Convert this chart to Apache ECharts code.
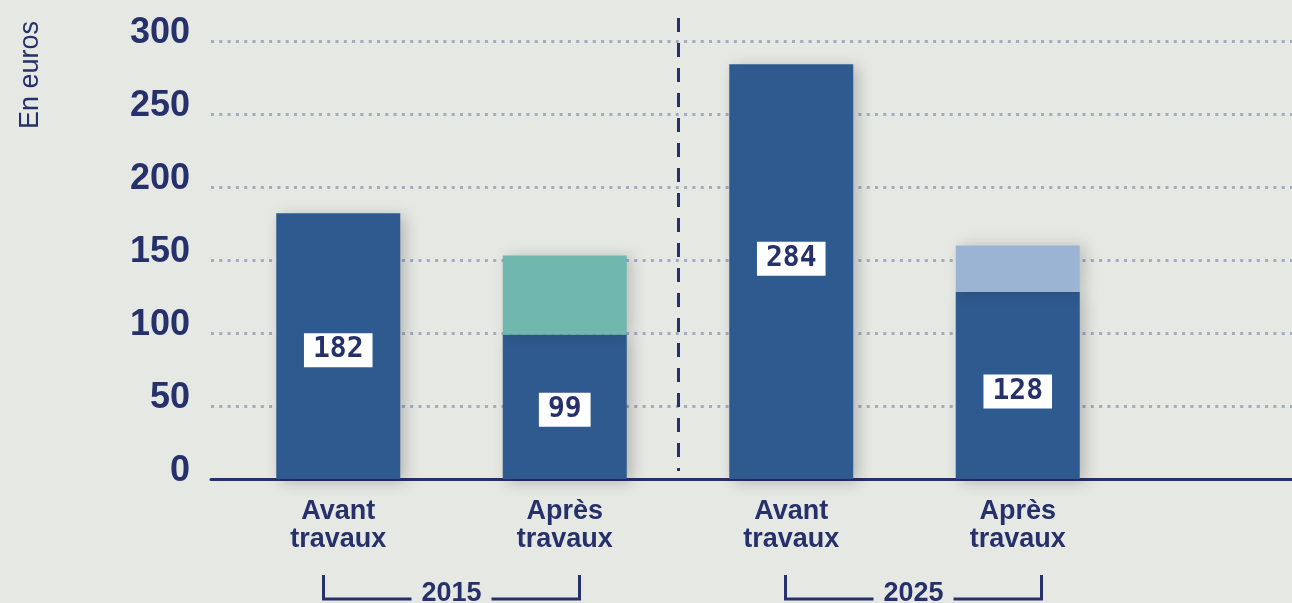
<!DOCTYPE html>
<html>
<head>
<meta charset="utf-8">
<script src="https://cdn.jsdelivr.net/npm/echarts@6/dist/echarts.min.js"></script>
<style>
html,body{margin:0;padding:0;background:#e6e8e4;}
#chart{width:1292px;height:603px;}
</style>
</head>
<body>
<div id="chart"></div>
<script>
// ---- Data ----
const categories = ['Avant\ntravaux', 'Après\ntravaux', 'Avant\ntravaux', 'Après\ntravaux'];
const years = ['2015', '2025'];
const baseValues = [182, 99, 284, 128];      // labelled values
const addedValues = [null, 54, null, 32];    // light top segments (estimated)
const yMin = 0, yMax = 300, yStep = 50;

// ---- Styles ----
const NAVY = '#26306b';
const BAR = '#2f5a8f';
const topColors = [null, '#70b8ae', null, '#9cb4d4'];
const labelOffsets = [[0, 4], [0, 3], [0, -13], [0, 6]];
const yearShift = [0, 9];
const FONT = 'Liberation Sans, Arial, sans-serif';

const chart = echarts.init(document.getElementById('chart'), null, {renderer: 'canvas'});

const option = {
  backgroundColor: '#e6e8e4',
  animation: false,
  grid: [
    {left: 211, right: 0, top: 41, bottom: 124, outerBoundsMode: 'none', containLabel: false},
    {left: 225, right: 161, top: 41, bottom: 124, outerBoundsMode: 'none', containLabel: false},
    {left: 225, right: 161, top: 18, bottom: 132, outerBoundsMode: 'none', containLabel: false}
  ],
  xAxis: [
    {gridIndex: 0, type: 'category', data: [''], axisLine: {show: true, lineStyle: {color: NAVY, width: 3}},
     axisTick: {show: false}, axisLabel: {show: false}, splitLine: {show: false}},
    {gridIndex: 1, type: 'category', data: categories, axisLine: {show: false}, axisTick: {show: false},
     axisLabel: {color: NAVY, fontFamily: FONT, fontWeight: 'bold', fontSize: 27, lineHeight: 28, margin: 19}},
    {gridIndex: 2, type: 'category', data: years, axisLine: {show: false}, axisTick: {show: false},
     axisLabel: {color: NAVY, fontFamily: FONT, fontWeight: 'bold', fontSize: 27, lineHeight: 28, margin: 109,
       formatter: (v) => v === years[1] ? '{b|' + v + '}' : '{a|' + v + '}',
       rich: {
         a: {color: NAVY, fontFamily: FONT, fontWeight: 'bold', fontSize: 27},
         b: {color: NAVY, fontFamily: FONT, fontWeight: 'bold', fontSize: 27, padding: [0, 0, 0, 2 * yearShift[1]]}
       }},
     splitLine: {show: true, showMinLine: false, showMaxLine: false,
       lineStyle: {color: NAVY, width: 3, type: [14, 11]}}}
  ],
  yAxis: [
    {gridIndex: 0, type: 'value', min: yMin, max: yMax, interval: yStep,
     axisLine: {show: false}, axisTick: {show: false},
     axisLabel: {color: NAVY, fontFamily: FONT, fontWeight: 'bold', fontSize: 36, margin: 21,
       verticalAlign: 'bottom', lineHeight: 15},
     splitLine: {show: true, showMinLine: false, lineStyle: {color: '#a3abbf', width: 3, type: [3, 5.3]}}},
    {gridIndex: 1, type: 'value', min: yMin, max: yMax, interval: yStep, show: false, splitLine: {show: false}},
    {gridIndex: 2, type: 'value', min: 0, max: 1, show: false, splitLine: {show: false}}
  ],
  series: [
    {
      type: 'bar', xAxisIndex: 1, yAxisIndex: 1, stack: 'total', barWidth: 124, z: 3,
      data: baseValues.map((v, i) => ({
        value: v,
        label: {offset: labelOffsets[i]}
      })),
      itemStyle: {color: BAR, shadowBlur: 14, shadowColor: 'rgba(0,0,0,0.22)', shadowOffsetX: 5, shadowOffsetY: 3},
      label: {
        show: true, position: 'inside', color: NAVY, backgroundColor: '#ffffff',
        fontFamily: 'DejaVu Sans Mono, monospace', fontWeight: 'bold', fontSize: 28,
        padding: [4, 9, 2, 9]
      }
    },
    {
      type: 'bar', xAxisIndex: 1, yAxisIndex: 1, stack: 'total', barWidth: 124, z: 3,
      data: addedValues.map((v, i) => ({
        value: v,
        itemStyle: {color: topColors[i] || BAR}
      })),
      itemStyle: {shadowBlur: 14, shadowColor: 'rgba(0,0,0,0.18)', shadowOffsetX: 5, shadowOffsetY: 0}
    }
  ],
  graphic: [
    {type: 'text', id: 'yname', x: 31, y: 75, rotation: Math.PI / 2,
     style: {text: 'En euros', fill: NAVY, font: '27px ' + FONT, textAlign: 'center', textVerticalAlign: 'middle'}}
  ]
};
chart.setOption(option);

// Brackets under the year labels, positioned from the year axis
const brackets = [];
years.forEach((y, i) => {
  const c = chart.convertToPixel({xAxisIndex: 2, yAxisIndex: 2}, [y, 0])[0] + yearShift[i];
  const half = 128, gap = 40, top = 575, base = 599;
  brackets.push({type: 'polyline', id: 'bl' + i, shape: {points: [[c - half, top], [c - half, base], [c - gap, base]]},
    style: {stroke: NAVY, lineWidth: 3, fill: null}});
  brackets.push({type: 'polyline', id: 'br' + i, shape: {points: [[c + gap, base], [c + half, base], [c + half, top]]},
    style: {stroke: NAVY, lineWidth: 3, fill: null}});
});
chart.setOption({graphic: brackets});
</script>
</body>
</html>
